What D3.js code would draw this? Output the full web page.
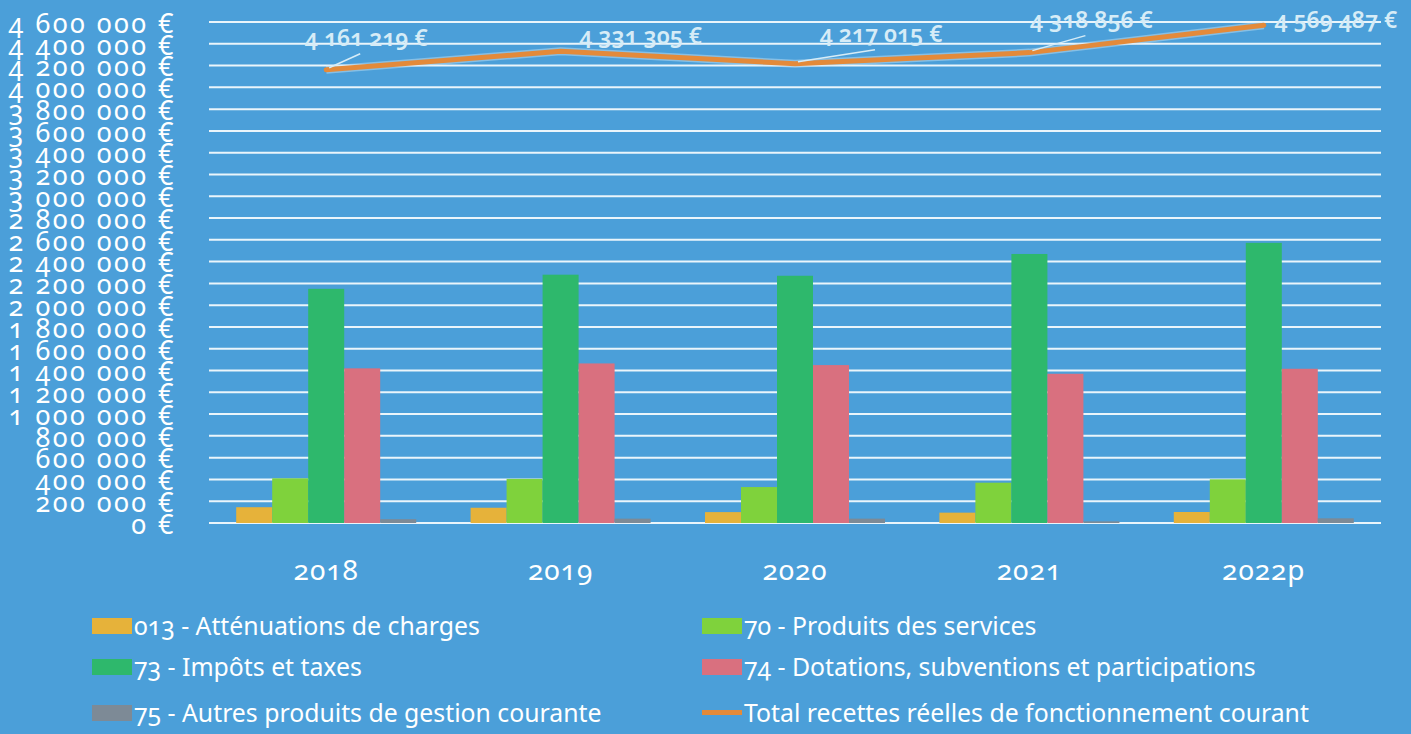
<!DOCTYPE html>
<html><head><meta charset="utf-8">
<script src="https://cdn.jsdelivr.net/npm/d3@7"></script>
<style>
html,body{margin:0;padding:0;background:#4B9FD9;}
svg{display:block;}
text{font-family:"Noto Sans",sans-serif;font-variant-numeric:oldstyle-nums;font-feature-settings:"onum" 1;}
</style></head>
<body>
<svg id="chart" width="1411" height="734"></svg>
<script>
const categories = ["2018", "2019", "2020", "2021", "2022p"];
const seriesNames = [
  "013 - Atténuations de charges",
  "70 - Produits des services",
  "73 - Impôts et taxes",
  "74 - Dotations, subventions et participations",
  "75 - Autres produits de gestion courante"
];
const lineName = "Total recettes réelles de fonctionnement courant";
const s013 = [145000, 140000, 100000, 95000, 101000];
const s70  = [410000, 405000, 330000, 370000, 401000];
const s73  = [2150000, 2280000, 2270000, 2470000, 2572000];
const s74  = [1420000, 1465000, 1450000, 1370000, 1416000];
const s75  = [35000, 40000, 40000, 15000, 43000];
const totals = [4161219, 4331305, 4217015, 4318856, 4569487];
const yTickValues = [0,200000,400000,600000,800000,1000000,1200000,1400000,1600000,1800000,2000000,2200000,2400000,2600000,2800000,3000000,3200000,3400000,3600000,3800000,4000000,4200000,4400000,4600000];

(function(){
const seriesValues = [s013, s70, s73, s74, s75];
const barColors = ["#E6B23A", "#7FD23C", "#2EB86C", "#D9707F", "#7D8A96"];
const lineColor = "#E38A3A";
const labelNudge = [[40,-32],[80,-15],[86,-30],[62,-33],[72,-5]];
const leader = [true,false,true,true,false];

const fr = d3.formatLocale({decimal:",", thousands:" ", grouping:[3], currency:[""," €"]});
const fmt = v => fr.format(",")(v) + " €";

const svg = d3.select("#chart");
const pLeft = 209, pRight = 1381, pTop = 22, pBottom = 523;

const y = d3.scaleLinear().domain([0, 4600000]).range([pBottom, pTop]);
const x0 = d3.scaleBand().domain(categories).range([pLeft, pRight]).paddingInner(0.232).paddingOuter(0.116);
const x1 = d3.scaleBand().domain(d3.range(seriesNames.length)).range([0, x0.bandwidth()]);

svg.append("g").selectAll("line").data(yTickValues).join("line")
  .attr("x1", pLeft).attr("x2", pRight)
  .attr("y1", d => y(d)).attr("y2", d => y(d))
  .attr("stroke", "#EAF5FB").attr("stroke-width", 2);

const yAxis = d3.axisLeft(y).tickValues(yTickValues).tickFormat(fmt).tickSize(0).tickPadding(0);
const ya = svg.append("g").attr("transform", "translate(176,0)").call(yAxis);
ya.select(".domain").remove();
ya.selectAll("text").attr("fill", "#FFFFFF").attr("font-size", 27).attr("letter-spacing", 2.5).attr("dy", "0.38em")
  .style("font-family", '"Noto Sans", sans-serif');

const groups = svg.append("g").selectAll("g").data(categories).join("g")
  .attr("transform", d => `translate(${x0(d)},0)`);
groups.selectAll("rect").data((c, ci) => seriesValues.map((s, si) => ({si, v: s[ci]}))).join("rect")
  .attr("x", d => x1(d.si)).attr("width", x1.bandwidth())
  .attr("y", d => y(d.v)).attr("height", d => y(0) - y(d.v))
  .attr("fill", d => barColors[d.si]);

const xAxis = d3.axisBottom(x0).tickSize(0).tickPadding(0);
const xa = svg.append("g").attr("transform", `translate(0,${pBottom})`).call(xAxis);
xa.select(".domain").remove();
xa.selectAll("text").attr("fill", "#FFFFFF").attr("font-size", 28).attr("letter-spacing", 1).attr("y", 47).attr("dy", "0.35em")
  .style("font-family", '"Noto Sans", sans-serif');

const cx = c => x0(c) + x0.bandwidth() / 2;
const lineGen = d3.line().x((d, i) => cx(categories[i])).y(d => y(d));
svg.append("path").datum(totals).attr("d", lineGen).attr("fill", "none")
  .attr("stroke", "#CFE6F3").attr("stroke-width", 8).attr("stroke-linejoin", "round").attr("opacity", 0.45);
svg.append("path").datum(totals).attr("d", lineGen).attr("fill", "none")
  .attr("stroke", lineColor).attr("stroke-width", 5).attr("stroke-linejoin", "round").attr("stroke-linecap", "round");

totals.forEach((v, i) => {
  const px = cx(categories[i]), py = y(v);
  const lx = px + labelNudge[i][0], ly = py + labelNudge[i][1];
  if (leader[i]) {
    svg.append("line").attr("x1", px + 3).attr("y1", py - 2).attr("x2", lx - 6).attr("y2", ly + 16)
      .attr("stroke", "#D6ECF7").attr("stroke-width", 1.5);
  }
  svg.append("text").attr("x", lx).attr("y", ly).attr("text-anchor", "middle").attr("dy", "0.35em")
    .attr("fill", "#D6ECF7").attr("font-size", 23).attr("font-weight", 600)
    .text(fmt(v));
});

const legendItems = [
  {name: seriesNames[0], color: barColors[0], type: "bar"},
  {name: seriesNames[1], color: barColors[1], type: "bar"},
  {name: seriesNames[2], color: barColors[2], type: "bar"},
  {name: seriesNames[3], color: barColors[3], type: "bar"},
  {name: seriesNames[4], color: barColors[4], type: "bar"},
  {name: lineName, color: lineColor, type: "line"}
];
const colX = [92, 702], rowY = [626, 667, 713];
const lg = svg.append("g").selectAll("g").data(legendItems).join("g")
  .attr("transform", (d, i) => `translate(${colX[i % 2]},${rowY[Math.floor(i / 2)]})`);
lg.append("rect")
  .attr("x", 0).attr("width", 40)
  .attr("y", d => d.type === "bar" ? -8 : -3)
  .attr("height", d => d.type === "bar" ? 16 : 5)
  .attr("fill", d => d.color);
lg.append("text").attr("x", 42).attr("dy", "0.35em").attr("fill", "#FFFFFF").attr("font-size", 24.8)
  .text(d => d.name);
})();
</script>
</body></html>
